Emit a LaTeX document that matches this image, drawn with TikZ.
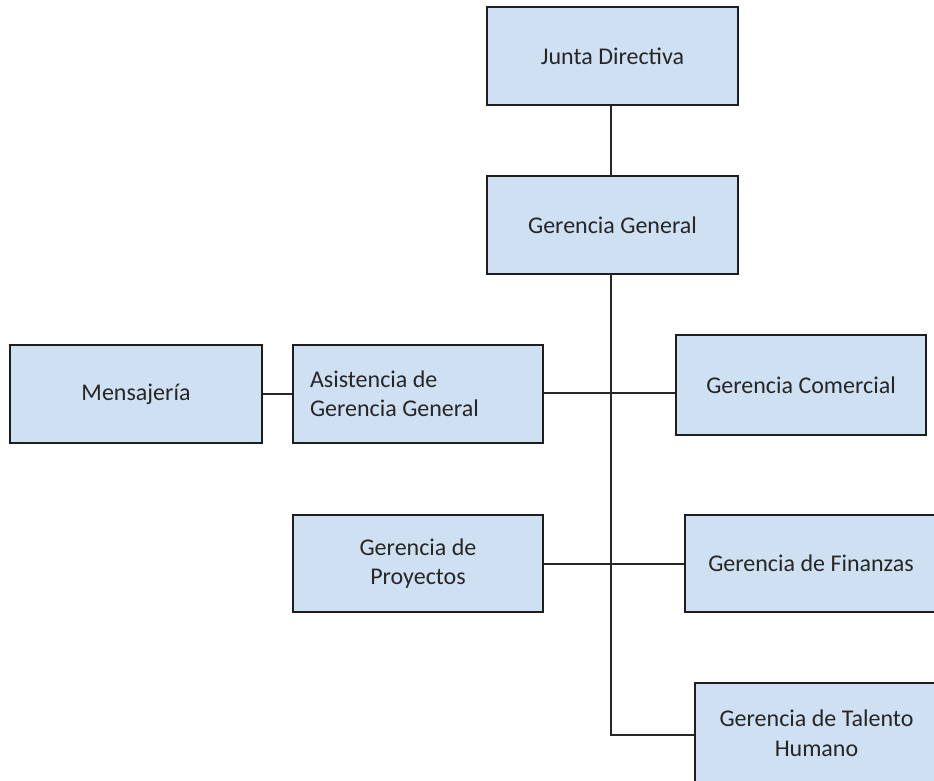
\documentclass[tikz,border=0pt]{standalone}
\usepackage{fontspec}
\setmainfont{Carlito}
\definecolor{boxfill}{RGB}{207,224,242}
\definecolor{boxline}{RGB}{30,30,30}
\begin{document}
\begin{tikzpicture}[x=1pt,y=-1pt,
  orgbox/.style={draw=boxline, fill=boxfill, line width=1.8pt,
    minimum width=250pt, minimum height=98pt, inner sep=0pt,
    font=\fontsize{24}{29.5}\selectfont, text=black!85, align=center},
  link/.style={draw=black!85, line width=1.5pt}]
\useasboundingbox (0,0) rectangle (934,781);

% boxes
\node[orgbox, minimum width=251pt] (junta) at (612.5,56) {Junta Directiva};
\node[orgbox, minimum width=251pt] (gg) at (612.5,225) {Gerencia General};
\node[orgbox, minimum width=252pt] (mens) at (136,394) {Mensajería};
\node[orgbox, text width=216pt, align=flush left, inner xsep=17pt] (asis) at (418,394)
  {Asistencia de\\Gerencia General};
\node[orgbox, minimum height=100pt] (com) at (801,385) {Gerencia Comercial};
\node[orgbox, minimum height=97pt] (proy) at (418,563.5) {Gerencia de\\Proyectos};
\node[orgbox, minimum width=252pt, minimum height=97pt] (fin) at (811,563.5) {Gerencia de Finanzas};
\node[orgbox, minimum width=243pt, minimum height=100pt] (tal) at (816.5,733)
  {Gerencia de Talento\\Humano};

% connectors
\coordinate (ggb) at (611,274);
\coordinate (corner) at (611,735);
\draw[link] (611,105) -- (611,176);
\draw[link] (ggb) -- (corner) -- (corner -| tal.west);
\draw[link] (mens.east) -- (asis.west);
\draw[link] (asis.east |- 0,393) -- (com.west |- 0,393);
\draw[link] (proy.east |- 0,564) -- (fin.west |- 0,564);
\end{tikzpicture}
\end{document}
